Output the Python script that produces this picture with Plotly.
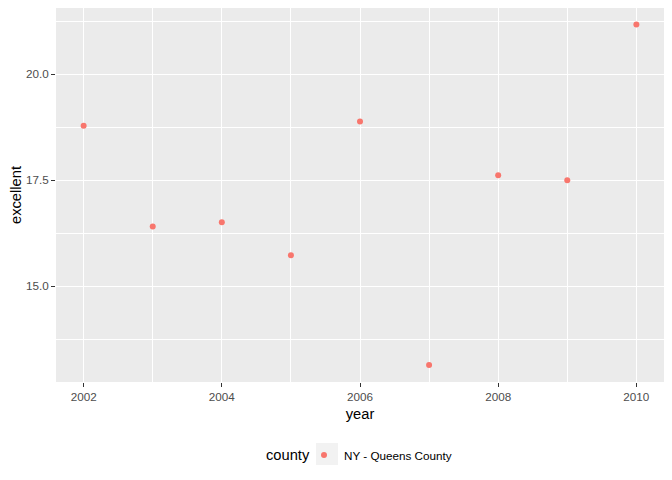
import plotly.graph_objects as go

# values
years = [2002, 2003, 2004, 2005, 2006, 2007, 2008, 2009, 2010]
excellent = [18.79, 16.41, 16.51, 15.73, 18.89, 13.14, 17.62, 17.50, 21.18]
county = "NY - Queens County"

# page body has an 8px margin, so the figure is laid out 8px smaller
W, H = 664, 472
L, R, T, B = 48, 8, 0, 98
pw, ph = W - L - R, H - T - B

fig = go.Figure()
fig.add_trace(go.Scatter(
    x=years, y=excellent, mode="markers", name=county,
    marker=dict(color="#F8766D", size=6, line=dict(width=0)),
))

axis_common = dict(
    showgrid=True, gridcolor="white", gridwidth=1.1,
    zeroline=False, showline=False, automargin=False,
    ticks="outside", ticklen=4, tickwidth=1, tickcolor="#333333",
    tickfont=dict(size=11.7, color="#4D4D4D"),
    title_font=dict(size=14.7, color="black"),
    minor=dict(showgrid=True, gridcolor="white", gridwidth=0.5, ticks=""),
)

fig.update_xaxes(axis_common, title_text="year", range=[2001.6, 2010.4],
                 tickvals=[2002, 2004, 2006, 2008, 2010], ticktext=["2002", "2004", "2006", "2008", "2010"],
                 minor_tickvals=[2001, 2003, 2005, 2007, 2009], title_standoff=6)
fig.update_yaxes(axis_common, title_text="excellent", range=[12.74, 21.567],
                 tickvals=[15, 17.5, 20], ticktext=["15.0", "17.5", "20.0"],
                 minor_tickvals=[13.75, 16.25, 18.75, 21.25], title_standoff=6)

# grey legend key background like ggplot
fig.add_shape(type="rect", xref="paper", yref="paper",
              x0=(308 - L) / pw, x1=(330 - L) / pw,
              y0=-(435 - (T + ph)) / ph, y1=-(457 - (T + ph)) / ph,
              fillcolor="#F2F2F2", line_width=0, layer="below")

# legend title
fig.add_annotation(text="county", xref="paper", yref="paper",
                   x=(256 - L) / pw, y=-(447 - (T + ph)) / ph,
                   xanchor="left", yanchor="middle", showarrow=False,
                   font=dict(size=14.7, color="black"))

fig.update_layout(
    width=W, height=H,
    margin=dict(l=L, r=R, t=T, b=B, autoexpand=False),
    plot_bgcolor="#EBEBEB", paper_bgcolor="white",
    font=dict(family="Liberation Sans, Arial, sans-serif"),
    showlegend=True,
    legend=dict(
        orientation="h", xref="container", x=296 / W, xanchor="left",
        yref="container", y=1 - 447 / H, yanchor="middle",
        font=dict(size=11.7, color="black"),
        bgcolor="rgba(0,0,0,0)", itemwidth=30,
    ),
)

fig.write_html("out.html")
